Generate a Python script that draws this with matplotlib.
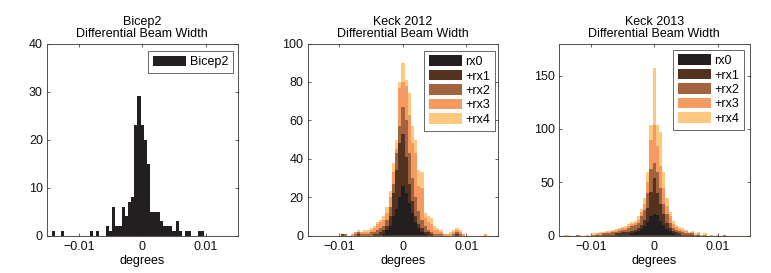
import numpy as np
import matplotlib
matplotlib.use("Agg")
import matplotlib.pyplot as plt

plt.rcParams['font.family'] = ['Liberation Sans', 'DejaVu Sans']
FS = 9.0
fpx = FS * 100 / 72.0  # font size in pixels

# bin index k -> centre k*0.0005 deg, k = -29 .. 29
bin_index = list(range(-29, 30))
bin_width = 0.0005

def sparse(d):
    return [d.get(k, 0) for k in bin_index]

bicep2 = sparse({-28: 1, -25: 1, -16: 1, -14: 1, -11: 2, -10: 1, -9: 6, -8: 2, -7: 2,
                 -6: 6, -5: 4, -4: 7, -3: 8, -2: 23, -1: 29, 0: 23, 1: 20, 2: 15,
                 3: 5, 4: 5, 5: 5, 6: 3, 7: 2, 8: 2, 9: 2, 10: 1, 11: 3, 12: 1,
                 14: 1, 15: 1, 18: 1, 19: 1})

# Keck 2012 cumulative counts
k12_rx0 = sparse({-6: 1, -5: 3, -4: 5, -3: 10, -2: 14, -1: 20, 0: 26, 1: 22, 2: 17,
                  3: 12, 4: 7, 5: 4, 6: 2, 7: 1})
k12_rx1 = sparse({-19: 1, -14: 1, -9: 1, -8: 1, -7: 2, -6: 3, -5: 5, -4: 10, -3: 22,
                  -2: 34, -1: 48, 0: 53, 1: 41, 2: 27, 3: 18, 4: 10, 5: 6, 6: 4,
                  7: 2, 8: 2, 9: 1, 17: 1})
k12_rx2 = sparse({-19: 1, -18: 1, -15: 1, -14: 2, -13: 1, -12: 1, -11: 1, -10: 2,
                  -9: 2, -8: 3, -7: 4, -6: 5, -5: 8, -4: 15, -3: 27, -2: 43, -1: 57,
                  0: 67, 1: 60, 2: 43, 3: 30, 4: 20, 5: 13, 6: 8, 7: 5, 8: 3, 9: 2,
                  10: 1, 11: 1, 12: 1, 16: 1, 17: 2, 18: 1})
k12_rx3 = sparse({-19: 1, -18: 1, -16: 1, -15: 2, -14: 2, -13: 2, -12: 2, -11: 2,
                  -10: 3, -9: 4, -8: 6, -7: 7, -6: 8, -5: 12, -4: 20, -3: 33, -2: 45,
                  -1: 77, 0: 80, 1: 78, 2: 63, 3: 48, 4: 43, 5: 26, 6: 25, 7: 9,
                  8: 7, 9: 6, 10: 3, 11: 3, 12: 2, 13: 1, 14: 1, 15: 1, 16: 2,
                  17: 3, 18: 2, 19: 1, 26: 1})
k12_rx4 = sparse({-19: 1, -18: 1, -16: 1, -15: 2, -14: 3, -13: 2, -12: 3, -11: 3,
                  -10: 4, -9: 5, -8: 7, -7: 8, -6: 10, -5: 15, -4: 23, -3: 38,
                  -2: 50, -1: 80, 0: 90, 1: 81, 2: 74, 3: 57, 4: 50, 5: 34, 6: 33,
                  7: 12, 8: 10, 9: 9, 10: 5, 11: 4, 12: 3, 13: 1, 14: 1, 15: 2,
                  16: 3, 17: 4, 18: 3, 19: 1, 26: 1})

# Keck 2013 cumulative counts
k13_rx0 = sparse({-12: 1, -11: 1, -10: 1, -9: 1, -8: 1, -7: 2, -6: 3, -5: 4, -4: 6,
                  -3: 9, -2: 13, -1: 18, 0: 20, 1: 19, 2: 14, 3: 10, 4: 6, 5: 4,
                  6: 2, 7: 1, 8: 1})
k13_rx1 = sparse({-18: 1, -16: 1, -15: 1, -14: 1, -13: 1, -12: 2, -11: 2, -10: 3,
                  -9: 3, -8: 3, -7: 4, -6: 5, -5: 7, -4: 10, -3: 15, -2: 26, -1: 41,
                  0: 54, 1: 40, 2: 30, 3: 20, 4: 12, 5: 7, 6: 4, 7: 3, 8: 2, 9: 1,
                  10: 1, 11: 1, 12: 1, 14: 1})
k13_rx2 = sparse({-24: 1, -19: 1, -18: 1, -17: 1, -16: 2, -15: 2, -14: 2, -13: 3,
                  -12: 3, -11: 4, -10: 5, -9: 5, -8: 7, -7: 9, -6: 10, -5: 12,
                  -4: 18, -3: 24, -2: 40, -1: 62, 0: 68, 1: 60, 2: 45, 3: 30, 4: 20,
                  5: 12, 6: 7, 7: 5, 8: 4, 9: 3, 10: 2, 11: 2, 12: 2, 13: 1, 14: 1,
                  16: 1, 22: 1})
k13_rx3 = sparse({-28: 1, -24: 1, -21: 1, -19: 1, -18: 2, -17: 2, -16: 2, -15: 3,
                  -14: 3, -13: 4, -12: 5, -11: 6, -10: 7, -9: 7, -8: 9, -7: 11,
                  -6: 12, -5: 15, -4: 22, -3: 30, -2: 50, -1: 90, 0: 104, 1: 84,
                  2: 65, 3: 45, 4: 28, 5: 18, 6: 11, 7: 8, 8: 6, 9: 5, 10: 4, 11: 2,
                  12: 3, 13: 1, 14: 2, 15: 1, 16: 1, 18: 1, 20: 1, 22: 1})
k13_rx4 = sparse({-28: 1, -27: 1, -24: 1, -21: 1, -19: 2, -18: 2, -17: 3, -16: 3,
                  -15: 4, -14: 4, -13: 5, -12: 6, -11: 7, -10: 8, -9: 9, -8: 11,
                  -7: 13, -6: 14, -5: 18, -4: 25, -3: 35, -2: 60, -1: 104, 0: 157,
                  1: 104, 2: 97, 3: 60, 4: 35, 5: 22, 6: 14, 7: 10, 8: 8, 9: 7,
                  10: 5, 11: 3, 12: 4, 13: 2, 14: 3, 15: 1, 16: 2, 18: 1, 20: 1,
                  22: 1})

titles = ["Bicep2\nDifferential Beam Width",
          "Keck 2012\nDifferential Beam Width",
          "Keck 2013\nDifferential Beam Width"]
layer_labels = ["rx0", "+rx1", "+rx2", "+rx3", "+rx4"]
layer_colors = ["#231f20", "#53321f", "#a2643e", "#f59b62", "#fec97f"]
ylims = [40, 100, 180]
yticks = [[0, 10, 20, 30, 40], [0, 20, 40, 60, 80, 100], [0, 50, 100, 150]]
xticks = [-0.01, 0, 0.01]
xticklabels = ["\u22120.01", "0", "0.01"]

centers = np.array(bin_index) * bin_width
edges = np.concatenate([centers - bin_width / 2, [centers[-1] + bin_width / 2]])

W, H = 771, 273
fig = plt.figure(figsize=(W / 100, H / 100), dpi=100)

lefts = [47, 307.7, 559]
axw, axtop, axbot = 190.5, 43.5, 235.6
# legend upper-right corners (pixels from top-left)
leg_corner = [(233.3, 50.7), (495.3, 50.5), (744.3, 49.5)]

def style(ax, i):
    ax.set_xlim(-0.015, 0.015)
    ax.set_ylim(0, ylims[i])
    ax.set_xticks(xticks)
    ax.set_xticklabels(xticklabels)
    ax.set_yticks(yticks[i])
    ax.tick_params(direction='in', top=True, right=True, length=2.5, width=0.5,
                   labelsize=FS, colors='#222222', labelcolor='#111111')
    ax.tick_params(axis='x', pad=4.0)
    ax.tick_params(axis='y', pad=3.0)
    for s in ax.spines.values():
        s.set_linewidth(0.6)
        s.set_color('#333333')
    ax.set_xlabel("degrees", fontsize=FS, labelpad=1.5)
    ax.set_title(titles[i], fontsize=FS, pad=5.0, linespacing=0.95)

def add_legend(ax, i, handles):
    x, y = leg_corner[i]
    lg = ax.legend(handles=handles, loc='upper right',
                   bbox_to_anchor=(x / W, 1 - y / H), bbox_transform=fig.transFigure,
                   fontsize=FS, frameon=True, fancybox=False,
                   handlelength=33.0 / fpx, handleheight=11.5 / fpx,
                   labelspacing=0.15, handletextpad=0.3, borderpad=0.4,
                   borderaxespad=0.0)
    lg.get_frame().set_edgecolor('#222222')
    lg.get_frame().set_linewidth(0.6)

axes = []
for i in range(3):
    ax = fig.add_axes([lefts[i] / W, 1 - axbot / H, axw / W, (axbot - axtop) / H])
    axes.append(ax)

# Bicep2
ax = axes[0]
h = ax.stairs(bicep2, edges, fill=True, color=layer_colors[0], linewidth=0,
              label="Bicep2")
ax.axhline(0, color='#555555', lw=0.8, zorder=3)
style(ax, 0)
add_legend(ax, 0, [h])

for i, layers in [(1, [k12_rx0, k12_rx1, k12_rx2, k12_rx3, k12_rx4]),
                  (2, [k13_rx0, k13_rx1, k13_rx2, k13_rx3, k13_rx4])]:
    ax = axes[i]
    handles = [None] * 5
    for j in range(4, -1, -1):
        handles[j] = ax.stairs(layers[j], edges, fill=True, color=layer_colors[j],
                               linewidth=0, label=layer_labels[j])
    ax.axhline(0, color=layer_colors[4], lw=1.0, zorder=3)
    style(ax, i)
    add_legend(ax, i, handles)

fig.savefig("out.png", dpi=100)
